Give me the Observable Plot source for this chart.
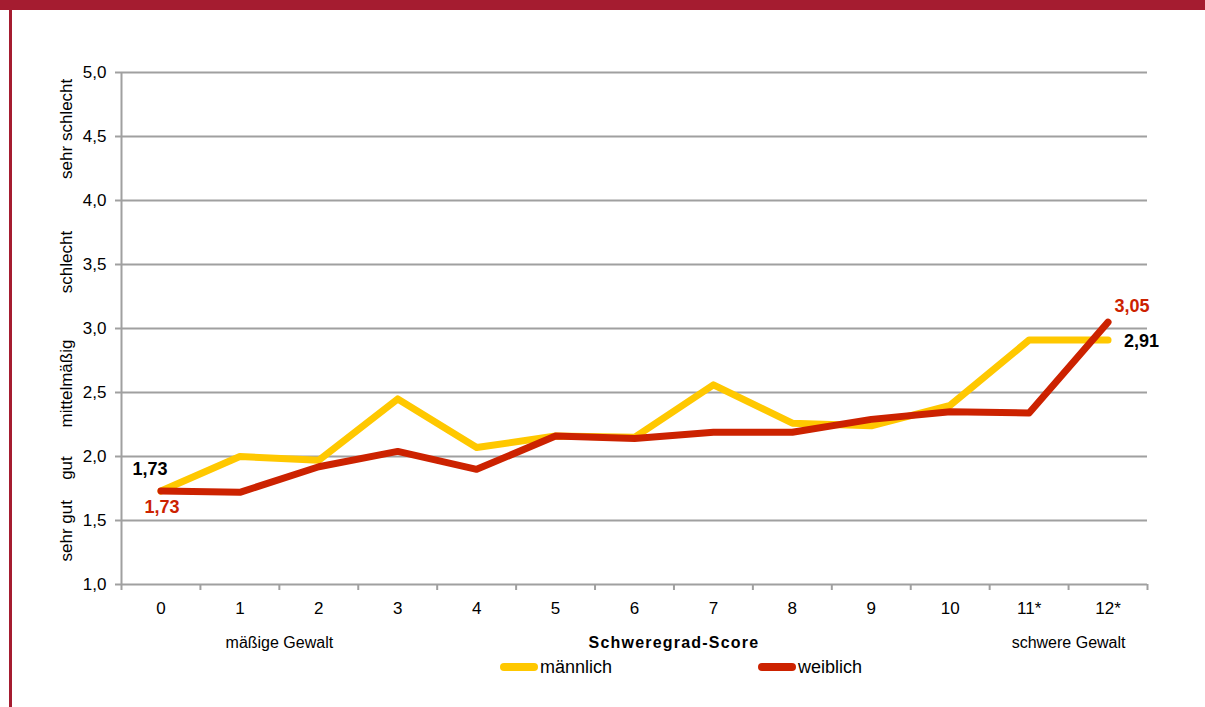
<!DOCTYPE html>
<html><head><meta charset="utf-8">
<script src="https://cdn.jsdelivr.net/npm/d3@7"></script>
<script src="https://cdn.jsdelivr.net/npm/@observablehq/plot@0.6"></script>
<style>
body{margin:0;background:#fff;font-family:"Liberation Sans",Arial,sans-serif;}
#wrap{position:relative;width:1205px;height:707px;overflow:hidden;background:#fff;}
#banner{position:absolute;left:0;top:0;width:1205px;height:10px;background:#a51c30;z-index:2;}
#lb{position:absolute;left:9px;top:0;width:3px;height:707px;background:#a51c30;z-index:2;}
#chart{position:absolute;left:0;top:0;}
#legend{position:absolute;left:500px;top:657px;display:flex;font-size:18px;line-height:20px;color:#000;z-index:3;}
.item{display:flex;align-items:center;width:258px;}
.sw{width:38px;height:8px;border-radius:4px;margin-right:2px;}
</style></head>
<body>
<div id="wrap">
  <div id="banner"></div><div id="lb"></div>
  <div id="chart"></div>
  <div id="legend"></div>
</div>
<script>
const categories = ["0","1","2","3","4","5","6","7","8","9","10","11*","12*"];
const maleValues   = [1.73,2.00,1.97,2.45,2.07,2.16,2.15,2.56,2.26,2.24,2.40,2.91,2.91];
const femaleValues = [1.73,1.72,1.92,2.04,1.90,2.16,2.14,2.19,2.19,2.29,2.35,2.34,3.05];
const seriesNames = ["männlich","weiblich"];
const seriesColors = ["#ffc800","#cc2200"];
const yTicks = [1,1.5,2,2.5,3,3.5,4,4.5,5];
const ratingLabels = [
  {label:"sehr gut", y:1.42},
  {label:"gut", y:1.91},
  {label:"mittelmäßig", y:2.57},
  {label:"schlecht", y:3.52},
  {label:"sehr schlecht", y:4.56}
];
const scoreAnnotations = [
  {label:"mäßige Gewalt", x:1.5},
  {label:"schwere Gewalt", x:11.5}
];
const xTitle = {label:"Schweregrad-Score", x:6.5};

const fmt = v => v.toFixed(2).replace(".", ",");
const fmt1 = v => v.toFixed(1).replace(".", ",");
const idx = d3.range(categories.length);
const boundaries = d3.range(-0.5, categories.length, 1);
const rows = [
  ...idx.map(i => ({i, series: seriesNames[0], value: maleValues[i]})),
  ...idx.map(i => ({i, series: seriesNames[1], value: femaleValues[i]}))
];
const last = categories.length - 1;
const grid = "#a0a0a0";
const font = '"Liberation Sans", Arial, sans-serif';

const plot = Plot.plot({
  width: 1205, height: 707,
  marginLeft: 121, marginRight: 58, marginTop: 72, marginBottom: 123,
  style: {background: "transparent", fontFamily: font, overflow: "visible", color: "#000"},
  x: {type: "linear", domain: [-0.5, categories.length - 0.5]},
  y: {domain: [1, 5]},
  color: {domain: seriesNames, range: seriesColors},
  marks: [
    Plot.ruleY(yTicks, {stroke: grid, strokeWidth: 2}),
    Plot.ruleX([-0.5], {y1: 1, y2: 5, stroke: grid, strokeWidth: 2}),
    Plot.axisY({ticks: yTicks, tickSize: 6, tickPadding: 9, tickFormat: fmt1, fontSize: 17, stroke: grid, strokeWidth: 2, strokeOpacity: 1, fill: "#000", label: null}),
    Plot.axisX({ticks: boundaries, tickSize: 6, tickFormat: () => "", stroke: grid, strokeWidth: 2, strokeOpacity: 1, label: null}),
    Plot.axisX({ticks: idx, tickSize: 0, tickPadding: 17, tickFormat: i => categories[i], fontSize: 17, fill: "#000", label: null}),
    Plot.text(ratingLabels, {y: "y", text: "label", frameAnchor: "left", textAnchor: "middle", dx: -55, rotate: -90, fontSize: 17, lineAnchor: "middle", fill: "#000"}),
    Plot.text(scoreAnnotations, {x: "x", text: "label", frameAnchor: "bottom", lineAnchor: "bottom", dy: 63, fontSize: 16, fill: "#000"}),
    Plot.text([xTitle], {x: "x", text: "label", frameAnchor: "bottom", lineAnchor: "bottom", dy: 63, fontSize: 16, fontWeight: "bold", fill: "#000"}),
    Plot.line(rows, {x: "i", y: "value", z: "series", stroke: "series", strokeWidth: 7, strokeLinejoin: "round", strokeLinecap: "round"}),
    Plot.text([0], {x: d => d, y: d => maleValues[d], text: d => fmt(maleValues[d]), dx: -11, dy: -16, lineAnchor: "bottom", fontSize: 18, fontWeight: "bold", fill: "#000"}),
    Plot.text([0], {x: d => d, y: d => femaleValues[d], text: d => fmt(femaleValues[d]), dx: 1, dy: 22, lineAnchor: "bottom", fontSize: 18, fontWeight: "bold", fill: seriesColors[1]}),
    Plot.text([last], {x: d => d, y: d => femaleValues[d], text: d => fmt(femaleValues[d]), dx: 24, dy: -10, lineAnchor: "bottom", fontSize: 18, fontWeight: "bold", fill: seriesColors[1]}),
    Plot.text([last], {x: d => d, y: d => maleValues[d], text: d => fmt(maleValues[d]), dx: 16, dy: 7, textAnchor: "start", lineAnchor: "bottom", fontSize: 18, fontWeight: "bold", fill: "#000"})
  ]
});
d3.select(plot).selectAll("text").filter(function(){ return this.textContent === xTitle.label; }).style("letter-spacing", "1.2px");
document.getElementById("chart").appendChild(plot);

const legend = d3.select("#legend");
seriesNames.forEach((name, k) => {
  const it = legend.append("div").attr("class", "item");
  it.append("div").attr("class", "sw").style("background", seriesColors[k]);
  it.append("span").text(name);
});
</script>
</body></html>
